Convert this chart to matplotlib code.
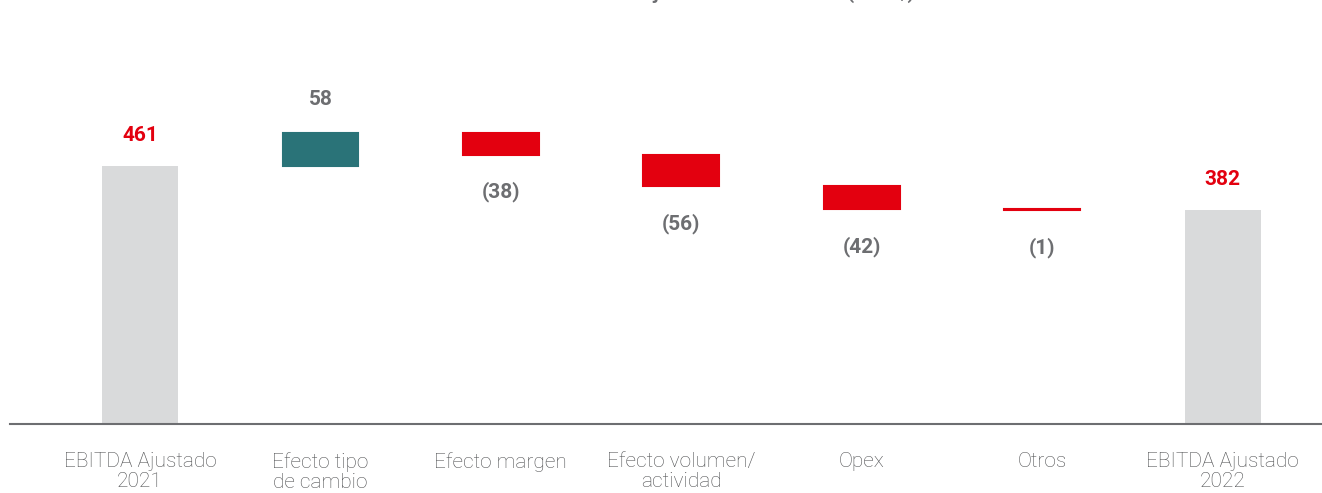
import matplotlib

matplotlib.use("Agg")
import matplotlib.pyplot as plt
import numpy as np

categories = [
    "EBITDA Ajustado\n2021",
    "Efecto tipo\nde cambio",
    "Efecto margen",
    "Efecto volumen/\nactividad",
    "Opex",
    "Otros",
    "EBITDA Ajustado\n2022",
]
start_value = 461
deltas = [58, -38, -56, -42, -1]
end_value = 382
title = "Evolución del EBITDA Ajustado 2021 vs 2022 (MUS$)"

RED = "#e3000f"
TEAL = "#2a7378"
LIGHT = "#d9dadb"
TEXT_GREY = "#6d6e71"
LABEL_GREY = "#4f5052"

fig = plt.figure(figsize=(13.22, 4.93), dpi=100)
ax = fig.add_axes([10 / 1322, 69 / 493, 1312 / 1322, 424 / 493])

x = np.arange(len(categories))
width = 0.42
value_font = dict(fontsize=15, fontweight="bold", family="Roboto", ha="center", va="center")

# totals
ax.bar([x[0], x[-1]], [start_value, end_value], width=width, color=LIGHT, linewidth=0)

# deltas
level = start_value
for i, d in enumerate(deltas, start=1):
    bottom = level if d >= 0 else level + d
    color = TEAL if d >= 0 else RED
    ax.bar(x[i], abs(d), bottom=bottom, width=width, color=color,
           edgecolor=color, linewidth=1.5)
    if d >= 0:
        ax.annotate(f"{d}", (x[i], level + d), xytext=(0, 24), textcoords="offset points",
                    color=TEXT_GREY, **value_font)
    else:
        ax.annotate(f"({abs(d)})", (x[i], level + d), xytext=(0, -27), textcoords="offset points",
                    color=TEXT_GREY, **value_font)
    level += d

for xi, v in [(x[0], start_value), (x[-1], end_value)]:
    ax.annotate(f"{v}", (xi, v), xytext=(0, 22), textcoords="offset points",
                color=RED, **value_font)

ax.set_xlim(-0.72, 6.55)
ax.set_ylim(0, 757)
ax.set_xticks(x)
ax.set_xticklabels(categories, fontsize=15, color=LABEL_GREY, family="Roboto",
                   fontweight="light", linespacing=1.1)
ax.tick_params(axis="x", length=0, pad=20)
ax.set_yticks([])
for side in ["left", "right", "top"]:
    ax.spines[side].set_visible(False)
ax.spines["bottom"].set_color(TEXT_GREY)
ax.spines["bottom"].set_linewidth(1.5)

# title sits mostly above the top edge, as in the source
fig.text(0.515, 1 + 1 / 493, title, ha="center", va="baseline", fontsize=14,
         fontweight="bold", color=TEXT_GREY, family="Roboto")

fig.savefig("out.png", dpi=100)
